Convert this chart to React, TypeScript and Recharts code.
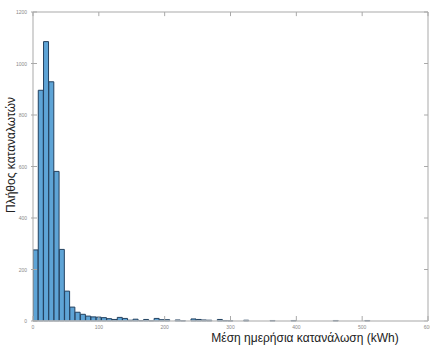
import React from "react";
import { BarChart, Bar, XAxis, YAxis, ReferenceLine } from "recharts";

// Histogram: bins of 8 kWh from 0 to 600 (bin centres)
const binCentres: number[] = [
  4, 12, 20, 28, 36, 44, 52, 60, 68, 76, 84, 92, 100, 108, 116, 124, 132, 140, 148, 156,
  164, 172, 180, 188, 196, 204, 212, 220, 228, 236, 244, 252, 260, 268, 276, 284, 292, 300, 308, 316,
  324, 332, 340, 348, 356, 364, 372, 380, 388, 396, 404, 412, 420, 428, 436, 444, 452, 460, 468, 476,
  484, 492, 500, 508, 516, 524, 532, 540, 548, 556, 564, 572, 580, 588, 596,
];
const counts: number[] = [
  276, 896, 1085, 929, 581, 278, 116, 54, 34, 26, 19, 16, 15, 13, 9, 6, 14, 10, 3, 7,
  2, 6, 1, 10, 5, 5, 0, 4, 1, 0, 8, 6, 4, 3, 0, 6, 2, 1, 0, 0,
  3, 0, 0, 0, 0, 2, 0, 0, 0, 2, 0, 0, 0, 0, 0, 0, 0, 2, 0, 0,
  0, 0, 0, 2, 0, 0, 0, 0, 0, 0, 0, 0, 0, 0, 0,
];
const xTicks: number[] = [0, 100, 200, 300, 400, 500, 600];
const yTicks: number[] = [0, 200, 400, 600, 800, 1000, 1200];
const xLabel = "Μέση ημερήσια κατανάλωση (kWh)";
const yLabel = "Πλήθος καταναλωτών";

const X_MAX = 600;
const Y_MAX = 1200;
// inner tick lengths expressed in data units (≈4 px)
const TOP_TICK_LEN = 16;
const RIGHT_TICK_LEN = 6;

const data = binCentres.map((c, i) => ({ mid: c, count: counts[i] }));

const TICK_COLOR = "#8a8a8a";
const AXIS_COLOR = "#a9a9a9";
const FONT = "'Liberation Sans', Arial, sans-serif";

const LeftTick = (props: any) => {
  const { x, y, payload } = props;
  const ax = x + 5;
  return (
    <g>
      <line x1={ax - 2} x2={ax + 4} y1={y} y2={y} stroke={AXIS_COLOR} strokeWidth={1} />
      <text x={x - 1} y={y + 2} textAnchor="end" fontSize={5} fill={TICK_COLOR} fontFamily={FONT}>
        {payload.value}
      </text>
    </g>
  );
};

const BottomTick = (props: any) => {
  const { x, y, payload } = props;
  const ay = y - 5;
  return (
    <g>
      <line x1={x} x2={x} y1={ay} y2={ay - 5} stroke={AXIS_COLOR} strokeWidth={1} />
      <text x={x} y={y + 3} textAnchor="middle" fontSize={5} fill={TICK_COLOR} fontFamily={FONT}>
        {payload.value}
      </text>
    </g>
  );
};

export default function App() {
  return (
    <div style={{ position: "absolute", left: 0, top: 0, width: 430, height: 347, background: "#fff" }}>
      <BarChart
        width={430}
        height={347}
        data={data}
        margin={{ top: 12, right: 2, bottom: 14, left: 0 }}
        barCategoryGap={0}
        barGap={0}
      >
        <XAxis
          dataKey="mid"
          type="number"
          domain={[0, X_MAX]}
          allowDataOverflow
          ticks={xTicks}
          height={12}
          tickSize={0}
          tickMargin={5}
          tickLine={false}
          tick={<BottomTick />}
          axisLine={{ stroke: "#c4c4c4", strokeWidth: 1.5 }}
          interval={0}
        />
        <YAxis
          domain={[0, Y_MAX]}
          ticks={yTicks}
          width={33}
          tickSize={0}
          tickMargin={5}
          tickLine={false}
          tick={<LeftTick />}
          axisLine={{ stroke: AXIS_COLOR, strokeWidth: 1 }}
          interval={0}
        />
        <Bar
          dataKey="count"
          fill="#5ea4d6"
          stroke="#24415f"
          strokeWidth={1}
          isAnimationActive={false}
        />
        <ReferenceLine y={Y_MAX} stroke={AXIS_COLOR} strokeWidth={1} />
        <ReferenceLine x={X_MAX} stroke={AXIS_COLOR} strokeWidth={1} />
        {xTicks.map((t) => (
          <ReferenceLine
            key={"tt" + t}
            segment={[
              { x: t, y: Y_MAX },
              { x: t, y: Y_MAX - TOP_TICK_LEN },
            ]}
            stroke={AXIS_COLOR}
            strokeWidth={1}
          />
        ))}
        {yTicks.map((t) => (
          <ReferenceLine
            key={"rt" + t}
            segment={[
              { x: X_MAX, y: t },
              { x: X_MAX - RIGHT_TICK_LEN, y: t },
            ]}
            stroke={AXIS_COLOR}
            strokeWidth={1}
          />
        ))}
      </BarChart>
      <div
        style={{
          position: "absolute",
          left: 305 - 150,
          width: 300,
          top: 331,
          textAlign: "center",
          fontFamily: FONT,
          fontSize: 12,
          lineHeight: "14px",
          color: "#222",
          whiteSpace: "nowrap",
        }}
      >
        {xLabel}
      </div>
      <div
        style={{
          position: "absolute",
          left: 11 - 100,
          top: 155 - 7,
          width: 200,
          textAlign: "center",
          fontFamily: FONT,
          fontSize: 12,
          lineHeight: "14px",
          color: "#222",
          whiteSpace: "nowrap",
          transform: "rotate(-90deg)",
          transformOrigin: "100px 7px",
        }}
      >
        {yLabel}
      </div>
    </div>
  );
}
